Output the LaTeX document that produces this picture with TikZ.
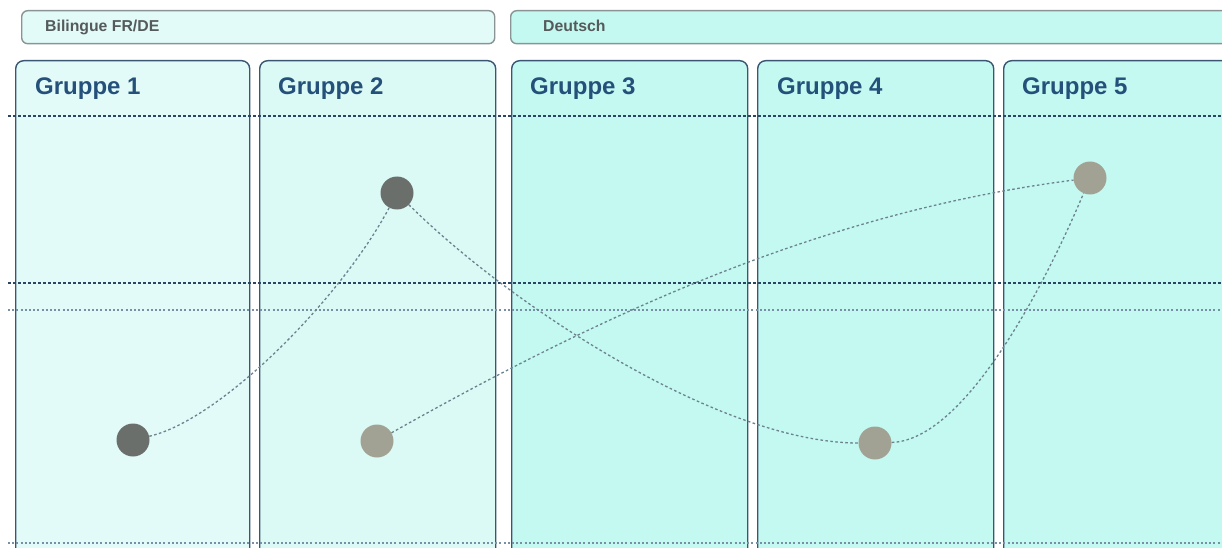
\documentclass[tikz,border=0pt]{standalone}
\usepackage{fontspec}
\setmainfont{Liberation Sans}
\begin{document}
\begin{tikzpicture}[x=1pt,y=-1pt,
  col/.style={draw=colborder,line width=1.4pt,rounded corners=8pt,inner sep=0pt,anchor=north west,minimum width=#1,minimum height=520pt},
  banner/.style={draw=bannerborder,line width=1.4pt,rounded corners=6pt,inner sep=0pt,anchor=north west,minimum height=33pt,minimum width=#1},
  grp/.style={anchor=base west,text=grptext,font=\fontsize{24}{28}\selectfont\bfseries,inner sep=0pt},
  bantext/.style={anchor=base west,text=bantextc,font=\fontsize{15.8}{18}\selectfont\bfseries,inner sep=0pt},
  hdark/.style={draw=navyline,line width=1.2pt,dash pattern=on 3pt off 2pt},
  hlight/.style={draw=lightline,line width=1.5pt,dash pattern=on 2pt off 2.2pt},
  conn/.style={draw=connc,line width=1.3pt,dash pattern=on 2.6pt off 2.4pt},
  dotdark/.style={circle,fill=darkdot,minimum size=33pt,inner sep=0pt},
  dotlight/.style={circle,fill=lightdot,minimum size=33pt,inner sep=0pt}
]
\definecolor{colborder}{HTML}{3A5672}
\definecolor{bannerborder}{HTML}{8A9494}
\definecolor{grptext}{HTML}{24507A}
\definecolor{bantextc}{HTML}{555A5A}
\definecolor{navyline}{HTML}{2A4664}
\definecolor{lightline}{HTML}{7890A4}
\definecolor{connc}{HTML}{6C828F}
\definecolor{darkdot}{HTML}{6A6F6B}
\definecolor{lightdot}{HTML}{A2A294}
\definecolor{fillA}{HTML}{E2FBF9}
\definecolor{fillB}{HTML}{DCFAF5}
\definecolor{fillC}{HTML}{C4F9F1}

\useasboundingbox (0,0) rectangle (1222,548);
\fill[white] (0,0) rectangle (1222,548);
\begin{scope}
\clip (0,0) rectangle (1222,548);

% banners
\node[banner=473pt,fill=fillA] (b1) at (21,10) {};
\node[banner=760pt,fill=fillC] (b2) at (510,10) {};
\node[bantext] (tb1) at (45,31.5) {Bilingue FR/DE};
\node[bantext] (tb2) at (543,31.5) {Deutsch};

% columns
\node[col=234pt,fill=fillA] (g1) at (15,60) {};
\node[col=236pt,fill=fillB] (g2) at (259,60) {};
\node[col=236pt,fill=fillC] (g3) at (511,60) {};
\node[col=236pt,fill=fillC] (g4) at (757,60) {};
\node[col=260pt,fill=fillC] (g5) at (1003,60) {};

\node[grp] (t1) at (35,95) {Gruppe 1};
\node[grp] (t2) at (278,95) {Gruppe 2};
\node[grp] (t3) at (530,95) {Gruppe 3};
\node[grp] (t4) at (777,95) {Gruppe 4};
\node[grp] (t5) at (1022,95) {Gruppe 5};

% horizontal guide lines
\draw[hdark] (8,116) -- (1222,116);
\draw[hdark] (8,283) -- (1222,283);
\draw[hlight] (8,310) -- (1222,310);
\draw[hlight] (8,543) -- (1222,543);

% dots
\node[dotdark] (c1) at (133,440) {};
\node[dotdark] (c2) at (397,193) {};
\node[dotlight] (c3) at (377,441) {};
\node[dotlight] (c4) at (875,443) {};
\node[dotlight] (c5) at (1090,178) {};

% connectors
\draw[conn] (c1) .. controls (220,420) and (340,300) .. (c2);
\draw[conn] (c2) .. controls (510,305) and (720,443) .. (c4);
\draw[conn] (c3) .. controls (627,300) and (840,210) .. (c5);
\draw[conn] (c4) .. controls (965,440) and (1045,285) .. (c5);
\end{scope}
\end{tikzpicture}
\end{document}
